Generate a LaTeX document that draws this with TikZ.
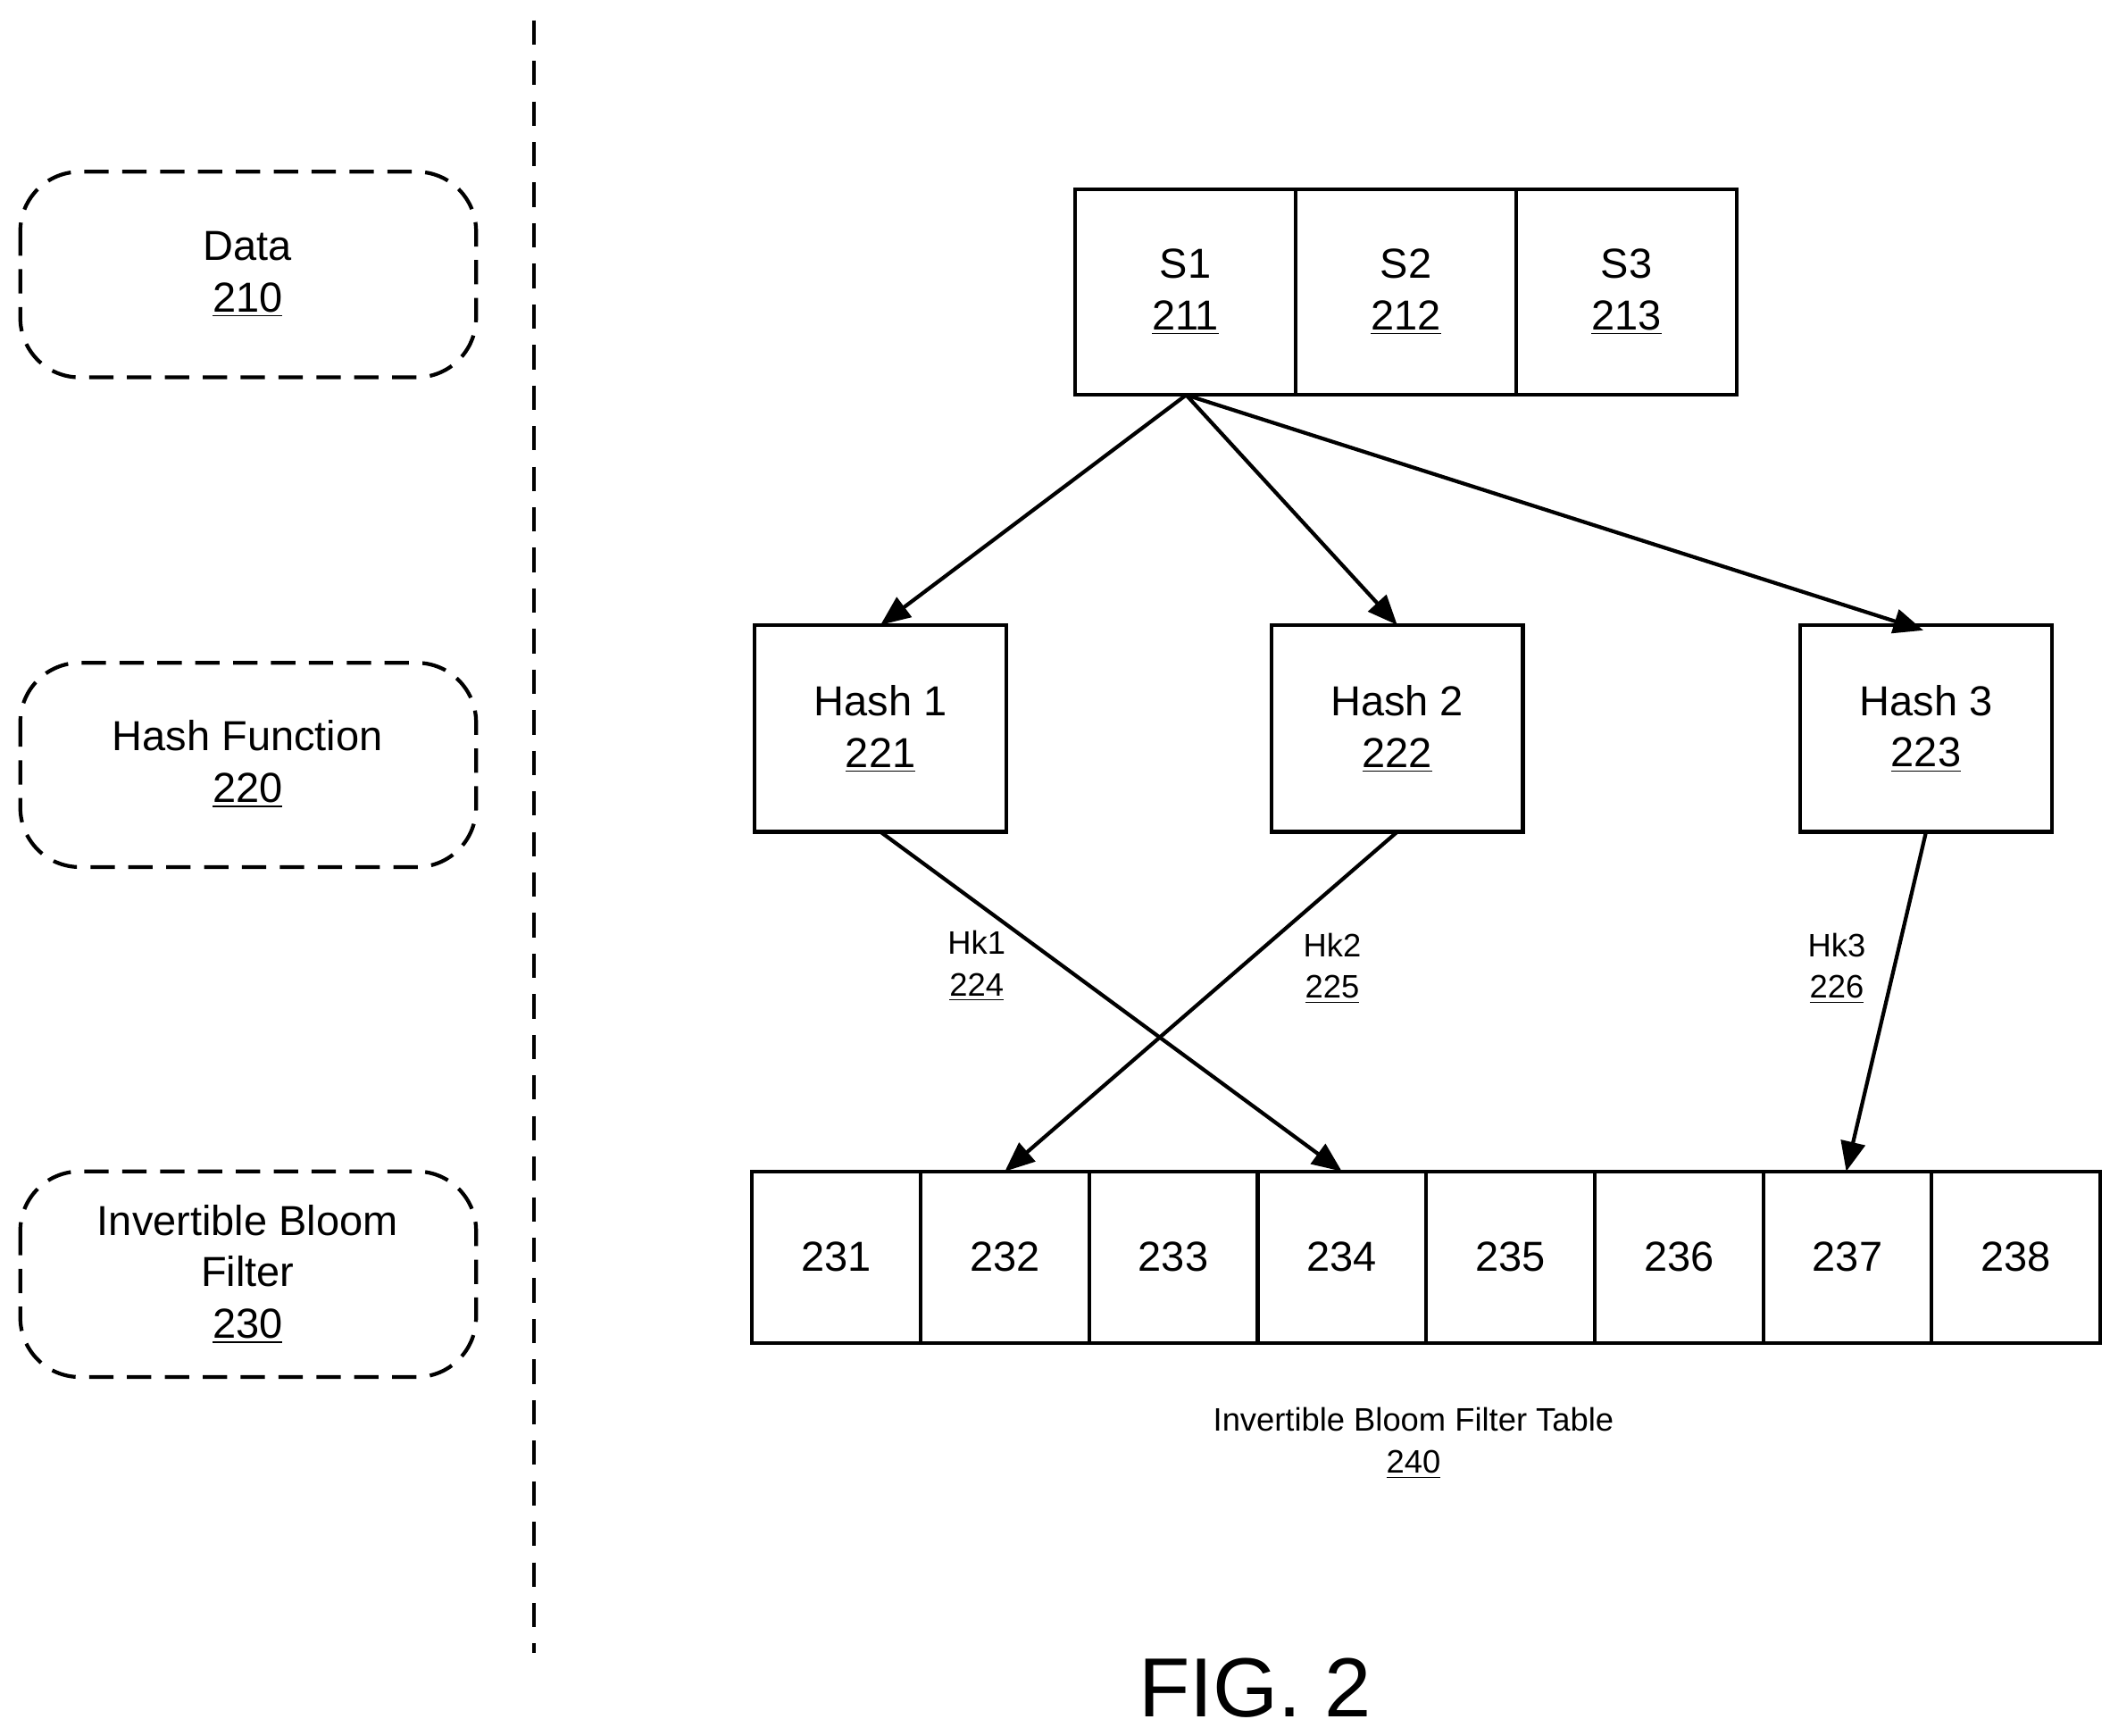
\documentclass[tikz,border=0pt]{standalone}
\usepackage{fontspec}
\setmainfont{Liberation Sans}
\usetikzlibrary{arrows.meta}
\begin{document}
\begin{tikzpicture}[x=0.5pt,y=-0.5pt,
  lw/.style={line width=1.4pt},
  box/.style={lw,draw,fill=white},
  dbox/.style={lw,draw,dashed,dash pattern=on 9pt off 5pt,rounded corners=22pt},
  arr/.style={lw,-{Triangle[length=11pt,width=9pt]}},
  big/.style={font=\fontsize{15.5}{19}\selectfont,align=center},
  small/.style={font=\fontsize{12}{15.5}\selectfont,align=center}]
\useasboundingbox (0,0) rectangle (1560,1283);
\draw[lw,dash pattern=on 9pt off 6pt] (395,15) coordinate (ta) -- (395,1222) coordinate (tb);
% legend boxes
\draw[dbox] (15,127) rectangle (352,279);
\node[big] (l1) at (183,203) {Data\\\underline{210}};
\draw[dbox] (15,490) rectangle (352,641);
\node[big] (l2) at (183,565) {Hash Function\\\underline{220}};
\draw[dbox] (15,866) rectangle (352,1018);
\node[big] (l3) at (183,942) {Invertible Bloom\\Filter\\\underline{230}};
% S boxes
\foreach \i/\x in {1/795,2/958,3/1121}{
  \draw[box] (\x,140) rectangle ++(163,152);
  \node[big] (s\i) at (\x+81.5,216) {S\i\\\underline{21\i}};
}
\coordinate (sb) at (877,292);
% hash boxes
\foreach \i/\x in {1/558,2/940,3/1331}{
  \draw[box] (\x,462) rectangle ++(186,153);
  \coordinate (h\i t) at (\x+93,462);
  \coordinate (h\i b) at (\x+93,615);
  \node[big] (h\i) at (\x+93,539) {Hash \i\\\underline{22\i}};
}
% table
\foreach \i in {1,...,8}{
  \draw[box] ({556+(\i-1)*124.6},866) rectangle ++(124.6,127);
  \node[big] (c\i) at ({556+(\i-0.5)*124.6},929) {23\i};
  \coordinate (c\i t) at ({556+(\i-0.5)*124.6},866);
}
\draw[arr] (sb) -- (h1t);
\draw[arr] (sb) -- (h2t);
\draw[arr] (sb) -- (1422,466);
\draw[arr] (h1b) -- (c4t);
\draw[arr] (h2b) -- (c2t);
\draw[arr] (h3b) -- (1365,866);
\node[small] (k1) at (722,714) {Hk1\\\underline{224}};
\node[small] (k2) at (985,716) {Hk2\\\underline{225}};
\node[small] (k3) at (1358,716) {Hk3\\\underline{226}};
\node[small] (tt) at (1045,1067) {Invertible Bloom Filter Table\\\underline{240}};
\node[font=\fontsize{31}{38}\selectfont] (fig) at (928,1248) {FIG. 2};
\end{tikzpicture}
\end{document}
